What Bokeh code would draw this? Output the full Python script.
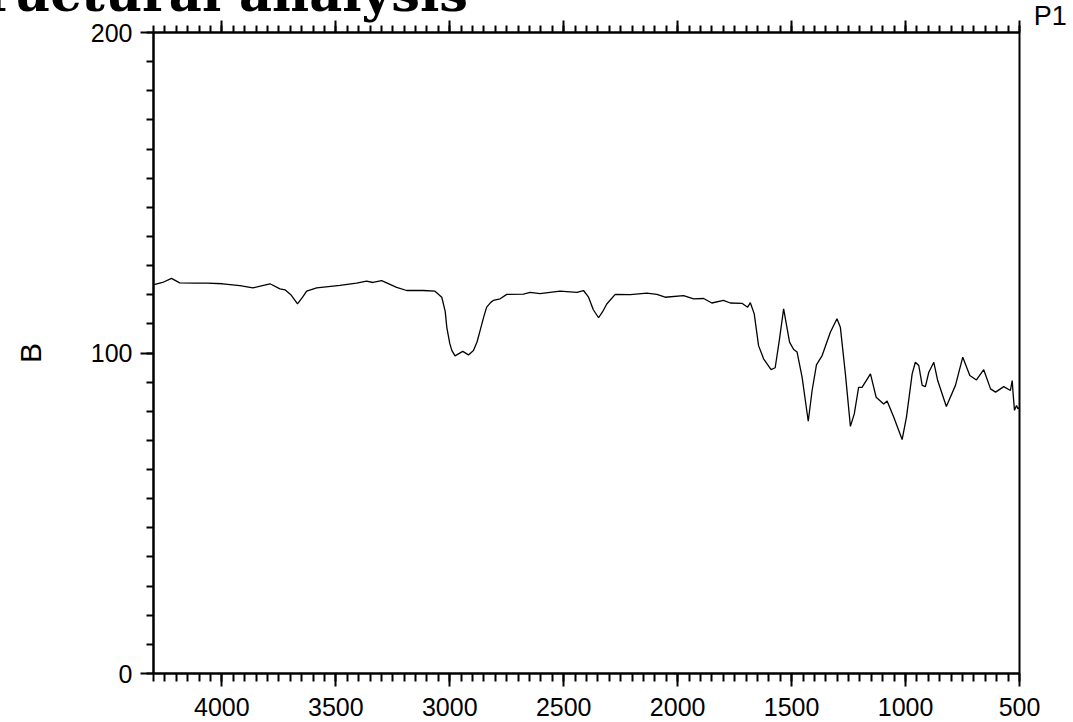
from bokeh.plotting import figure
from bokeh.models import Range1d, LinearAxis, SingleIntervalTicker, Label, CustomJSTickFormatter
from bokeh.embed import file_html
from bokeh.resources import INLINE

wavenumber = [4300, 4294, 4260, 4221, 4185, 4120, 4066, 3996, 3921, 3864, 3789, 3745, 3723, 3695,
              3668, 3645, 3628, 3584, 3482, 3409, 3365, 3337, 3299, 3233, 3189, 3117, 3065, 3035,
              3020, 3013, 3000, 2991, 2977, 2960, 2943, 2918, 2896, 2880, 2867, 2850, 2838, 2820,
              2809, 2779, 2750, 2677, 2647,
              2604, 2516, 2442, 2413, 2391, 2370, 2347, 2330, 2311, 2274, 2208, 2135, 2091, 2055, 1974,
              1930, 1886, 1850, 1799, 1769, 1718, 1693, 1681, 1664, 1645, 1623, 1590, 1572, 1553,
              1535, 1509, 1491, 1476, 1454, 1427, 1410, 1391, 1366, 1330, 1301, 1286, 1264, 1242,
              1225, 1206, 1191, 1154, 1129, 1096, 1081, 1052, 1015, 996, 971, 957, 942, 927, 913,
              898, 876, 859, 821, 781, 749, 718, 689, 657, 627, 605, 569, 540, 532, 528, 522, 513,
              507, 500]
signal_b = [121.3, 121.4, 122.0, 123.3, 121.9, 121.8, 121.8, 121.6, 121.0, 120.3, 121.6, 120.0,
            119.7, 118.0, 115.3, 117.5, 119.3, 120.3, 121.1, 121.8, 122.4, 122.0, 122.6, 120.5,
            119.5, 119.5, 119.3, 117.4, 113.0, 108.0, 103.0, 100.8, 99.1, 99.8, 100.5, 99.4,
            100.8, 103.5, 107.0, 111.5, 114.3, 115.8,
            116.4, 116.9, 118.3, 118.4, 118.9, 118.5, 119.3, 118.9, 119.5, 117.4, 113.5,
            111.0, 112.8, 115.3, 118.3, 118.2, 118.7, 118.3, 117.4, 117.9, 116.9, 117.0, 115.6, 116.4,
            115.6, 115.5, 114.3, 115.7, 112.2, 102.3, 98.2, 94.8, 95.4, 104.4, 113.8, 103.4,
            101.1, 100.3, 92.5, 78.7, 88.3, 96.3, 99.2, 106.5, 110.7, 108.0, 93.5, 77.1, 81.0,
            89.3, 89.3, 93.5, 86.2, 84.1, 85.0, 80.0, 73.0, 80.0, 93.5, 97.1, 96.1, 89.9, 89.5,
            94.0, 97.1, 91.4, 83.3, 89.9, 98.7, 93.0, 91.6, 94.8, 88.8, 87.8, 89.5, 88.3, 91.4,
            87.3, 82.1, 83.6, 82.6, 83.0]

x_ticks_major = 500
y_ticks_major = 100
title_text = "Structural analysis"
series_name = "P1"
y_label = "B"

FONT = "Liberation Sans"

p = figure(frame_width=866, frame_height=641,
           min_border_left=153, min_border_top=32, min_border_right=54, min_border_bottom=49,
           x_range=Range1d(4300, 500), y_range=Range1d(0, 200),
           output_backend="svg", toolbar_location=None, x_axis_location=None,
           y_axis_location=None)
p.grid.visible = False
p.outline_line_color = "black"
p.outline_line_width = 2
p.background_fill_color = "white"
p.border_fill_color = "white"

def style_axis(ax, major_out, minor_out, standoff):
    ax.axis_line_width = 2
    ax.axis_line_color = "black"
    ax.major_tick_line_width = 2
    ax.minor_tick_line_width = 2
    ax.major_tick_line_color = "black"
    ax.minor_tick_line_color = "black"
    ax.major_tick_in = 0
    ax.minor_tick_in = 0
    ax.major_tick_out = major_out
    ax.minor_tick_out = minor_out
    ax.major_label_text_font = FONT
    ax.major_label_text_font_size = "25px"
    ax.major_label_text_color = "black"
    ax.major_label_standoff = standoff

xb = LinearAxis(ticker=SingleIntervalTicker(interval=x_ticks_major, num_minor_ticks=10))
style_axis(xb, 13, 8, 11)
p.add_layout(xb, "below")

xt = LinearAxis(ticker=SingleIntervalTicker(interval=x_ticks_major, num_minor_ticks=10),
                formatter=CustomJSTickFormatter(code="return ''"))
style_axis(xt, 12, 7, 0)
xt.major_label_text_font_size = "1px"
p.add_layout(xt, "above")

yl = LinearAxis(ticker=SingleIntervalTicker(interval=y_ticks_major, num_minor_ticks=11),
                axis_label=y_label)
style_axis(yl, 13, 7, 8)
yl.axis_label_text_font = FONT
yl.axis_label_text_font_size = "30px"
yl.axis_label_text_font_style = "normal"
yl.axis_label_text_color = "black"
yl.axis_label_standoff = 41
p.add_layout(yl, "left")

p.line(wavenumber, signal_b, line_color="black", line_width=1.3)

# texts outside the frame live in side panels (unclipped); positioned in data units
p.add_layout(Label(x=2920, y=212.2, text=title_text, text_align="right",
                   text_baseline="alphabetic", text_font="DejaVu Serif",
                   text_font_style="bold", text_font_size="51px", text_color="black"), "below")
p.add_layout(Label(x=437, y=205.0, text=series_name, text_align="left",
                   text_baseline="alphabetic", text_font=FONT,
                   text_font_size="27px", text_color="black"), "right")

open("out.html", "w").write(file_html(p, INLINE))
